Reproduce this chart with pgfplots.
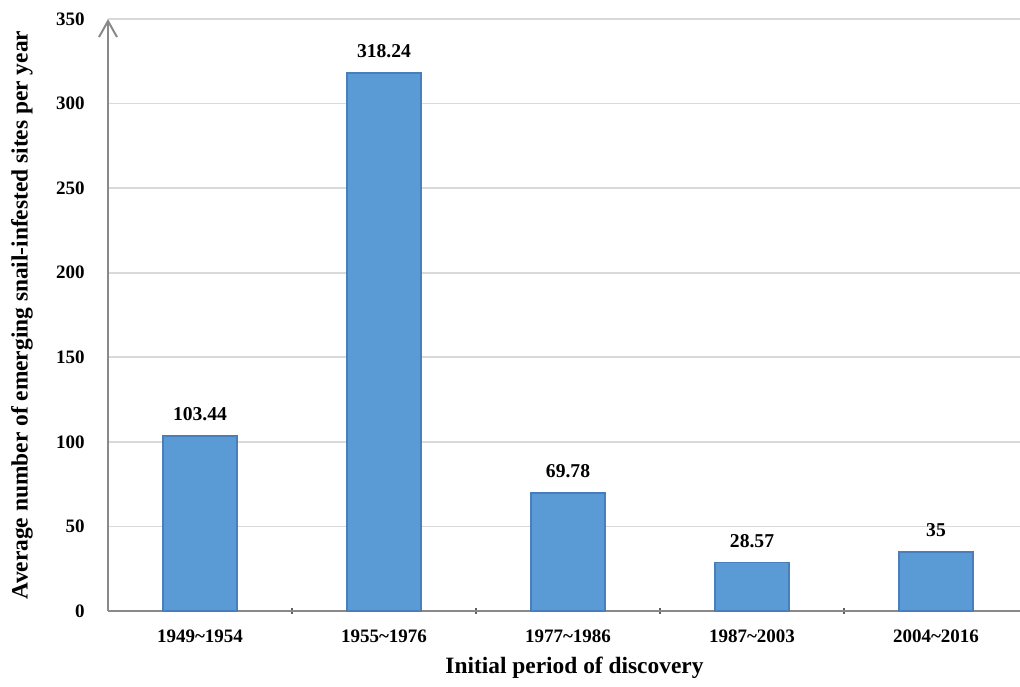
\documentclass[border=0pt]{standalone}
\usepackage{pgfplots}
\pgfplotsset{compat=1.18}
\usetikzlibrary{arrows.meta}
\usepackage{fontspec}
\setmainfont{Liberation Serif}
\definecolor{barfill}{HTML}{5B9BD5}
\definecolor{bardraw}{HTML}{4A7EBB}
\definecolor{axisgray}{HTML}{898989}
\definecolor{gridgray}{HTML}{D9D9D9}
\begin{document}
\begin{tikzpicture}
\begin{axis}[
    scale only axis,
    width=460pt, height=296pt,
    xmin=-0.5, xmax=4.5,
    ymin=0, ymax=350,
    ytick={0,50,100,150,200,250,300,350},
    xtick={0,1,2,3,4},
    xticklabels={1949\textasciitilde1954,1955\textasciitilde1976,1977\textasciitilde1986,1987\textasciitilde2003,2004\textasciitilde2016},
    minor xtick={0.5,1.5,2.5,3.5},
    major x tick style={draw=none},
    minor x tick style={axisgray!70!black, line width=0.8pt},
    minor tick length=3pt,
    tick align=outside,
    ytick style={draw=none},
    axis x line=bottom,
    axis y line=left,
    x axis line style={-, axisgray, line width=1pt},
    y axis line style={-{Straight Barb[length=8pt,width=9pt,line width=1pt]}, axisgray, line width=1pt},
    ymajorgrids=true,
    grid style={gridgray, line width=0.8pt},
    ticklabel style={font=\fontsize{9.5}{11}\selectfont\bfseries},
    /pgf/number format/assume math mode=true,
    yticklabel style={xshift=-6pt},
    xticklabel style={yshift=-4pt},
    xlabel={Initial period of discovery},
    ylabel={Average number of emerging snail-infested sites per year},
    label style={font=\fontsize{11.7}{13}\selectfont\bfseries},
    xlabel style={at={([yshift=-28.5pt]axis description cs:0.507,0)}, anchor=center},
    ylabel style={at={([xshift=-43pt]axis description cs:0,0.5)}, anchor=center},
    nodes near coords,
    nodes near coords style={font=\fontsize{9.8}{11}\selectfont\bfseries, inner sep=0pt, anchor=south, yshift=7pt, /pgf/number format/assume math mode=true},
    clip=false,
]
\addplot[ybar, bar width=37pt, fill=barfill, draw=bardraw, line width=0.8pt]
    coordinates {(0,103.44) (1,318.24) (2,69.78) (3,28.57) (4,35)};
\end{axis}
\pgfresetboundingbox
\path (-54pt,-37.5pt) rectangle (456pt,305.5pt);
\end{tikzpicture}
\end{document}
